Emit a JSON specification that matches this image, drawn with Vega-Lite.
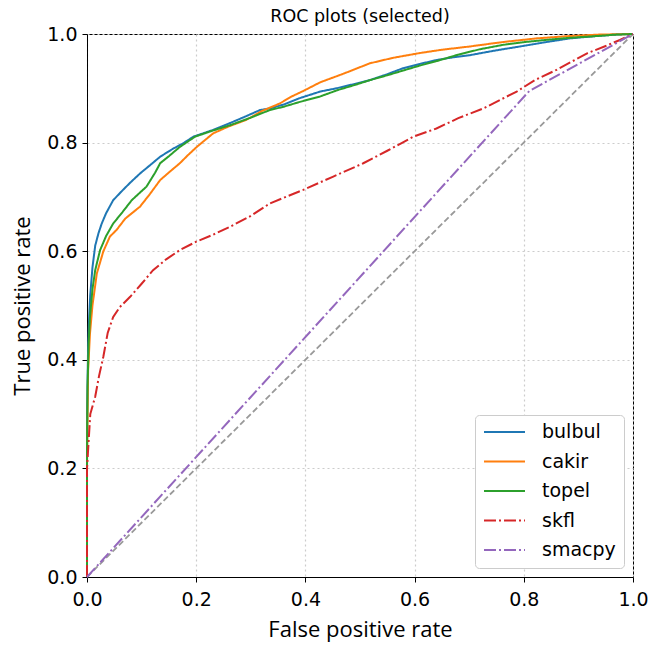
{
  "$schema": "https://vega.github.io/schema/vega-lite/v6.json",
  "width": 546,
  "height": 543,
  "autosize": {"type": "none"},
  "padding": {"left": 87, "top": 34, "right": 16, "bottom": 71},
  "background": "white",
  "title": {"text": "ROC plots (selected)", "font": "DejaVu Sans", "fontSize": 17.5, "fontWeight": "normal", "color": "black", "anchor": "middle", "baseline": "alphabetic", "offset": -14},
  "config": {
    "view": {"stroke": "black", "strokeWidth": 1},
    "axis": {
      "domainColor": "black", "tickColor": "black", "tickSize": 5, "labelColor": "black",
      "labelFont": "DejaVu Sans", "labelFontSize": 19, "titleFont": "Open Sans", "titleFontSize": 22,
      "titleFontWeight": "normal", "titleColor": "black",
      "gridColor": "#cccccc", "gridDash": [2, 3], "gridWidth": 1.2
    },
    "legend": {
      "orient": "bottom-right", "offset": 9, "labelFont": "DejaVu Sans", "labelFontSize": 19, "labelColor": "black",
      "symbolType": "stroke", "symbolSize": 1681, "symbolStrokeWidth": 2, "labelOffset": 16,
      "padding": 8, "rowPadding": 10.5, "clipHeight": 18, "strokeColor": "#cccccc", "cornerRadius": 4, "fillColor": "white"
    }
  },
  "datasets": {
    "roc": [
      {"model": "bulbul", "fpr": 0, "tpr": 0}, {"model": "bulbul", "fpr": 0, "tpr": 0.3}, {"model": "bulbul", "fpr": 0.002, "tpr": 0.42},
      {"model": "bulbul", "fpr": 0.004, "tpr": 0.48}, {"model": "bulbul", "fpr": 0.006, "tpr": 0.52}, {"model": "bulbul", "fpr": 0.01, "tpr": 0.57},
      {"model": "bulbul", "fpr": 0.015, "tpr": 0.61}, {"model": "bulbul", "fpr": 0.021, "tpr": 0.633}, {"model": "bulbul", "fpr": 0.027, "tpr": 0.651},
      {"model": "bulbul", "fpr": 0.035, "tpr": 0.67}, {"model": "bulbul", "fpr": 0.048, "tpr": 0.694}, {"model": "bulbul", "fpr": 0.066, "tpr": 0.713},
      {"model": "bulbul", "fpr": 0.08, "tpr": 0.727}, {"model": "bulbul", "fpr": 0.097, "tpr": 0.743}, {"model": "bulbul", "fpr": 0.115, "tpr": 0.758},
      {"model": "bulbul", "fpr": 0.134, "tpr": 0.774}, {"model": "bulbul", "fpr": 0.158, "tpr": 0.789}, {"model": "bulbul", "fpr": 0.175, "tpr": 0.798},
      {"model": "bulbul", "fpr": 0.195, "tpr": 0.811}, {"model": "bulbul", "fpr": 0.23, "tpr": 0.823}, {"model": "bulbul", "fpr": 0.262, "tpr": 0.836},
      {"model": "bulbul", "fpr": 0.29, "tpr": 0.848}, {"model": "bulbul", "fpr": 0.317, "tpr": 0.86}, {"model": "bulbul", "fpr": 0.335, "tpr": 0.863},
      {"model": "bulbul", "fpr": 0.36, "tpr": 0.87}, {"model": "bulbul", "fpr": 0.39, "tpr": 0.882}, {"model": "bulbul", "fpr": 0.427, "tpr": 0.894},
      {"model": "bulbul", "fpr": 0.457, "tpr": 0.9}, {"model": "bulbul", "fpr": 0.49, "tpr": 0.908}, {"model": "bulbul", "fpr": 0.518, "tpr": 0.915},
      {"model": "bulbul", "fpr": 0.55, "tpr": 0.926}, {"model": "bulbul", "fpr": 0.579, "tpr": 0.937}, {"model": "bulbul", "fpr": 0.61, "tpr": 0.945},
      {"model": "bulbul", "fpr": 0.64, "tpr": 0.952}, {"model": "bulbul", "fpr": 0.67, "tpr": 0.957}, {"model": "bulbul", "fpr": 0.701, "tpr": 0.961},
      {"model": "bulbul", "fpr": 0.75, "tpr": 0.97}, {"model": "bulbul", "fpr": 0.793, "tpr": 0.977}, {"model": "bulbul", "fpr": 0.84, "tpr": 0.985},
      {"model": "bulbul", "fpr": 0.885, "tpr": 0.992}, {"model": "bulbul", "fpr": 0.93, "tpr": 0.996}, {"model": "bulbul", "fpr": 0.97, "tpr": 0.999},
      {"model": "bulbul", "fpr": 1, "tpr": 1},

      {"model": "cakir", "fpr": 0, "tpr": 0}, {"model": "cakir", "fpr": 0, "tpr": 0.2}, {"model": "cakir", "fpr": 0.002, "tpr": 0.38},
      {"model": "cakir", "fpr": 0.0055, "tpr": 0.449}, {"model": "cakir", "fpr": 0.01, "tpr": 0.5}, {"model": "cakir", "fpr": 0.018, "tpr": 0.559},
      {"model": "cakir", "fpr": 0.03, "tpr": 0.6}, {"model": "cakir", "fpr": 0.042, "tpr": 0.627}, {"model": "cakir", "fpr": 0.054, "tpr": 0.639},
      {"model": "cakir", "fpr": 0.07, "tpr": 0.66}, {"model": "cakir", "fpr": 0.097, "tpr": 0.682}, {"model": "cakir", "fpr": 0.115, "tpr": 0.705},
      {"model": "cakir", "fpr": 0.134, "tpr": 0.731}, {"model": "cakir", "fpr": 0.15, "tpr": 0.745}, {"model": "cakir", "fpr": 0.17, "tpr": 0.762},
      {"model": "cakir", "fpr": 0.185, "tpr": 0.777}, {"model": "cakir", "fpr": 0.201, "tpr": 0.792}, {"model": "cakir", "fpr": 0.231, "tpr": 0.817},
      {"model": "cakir", "fpr": 0.26, "tpr": 0.83}, {"model": "cakir", "fpr": 0.292, "tpr": 0.842}, {"model": "cakir", "fpr": 0.32, "tpr": 0.858},
      {"model": "cakir", "fpr": 0.353, "tpr": 0.872}, {"model": "cakir", "fpr": 0.375, "tpr": 0.885}, {"model": "cakir", "fpr": 0.396, "tpr": 0.895},
      {"model": "cakir", "fpr": 0.427, "tpr": 0.911}, {"model": "cakir", "fpr": 0.47, "tpr": 0.927}, {"model": "cakir", "fpr": 0.518, "tpr": 0.946},
      {"model": "cakir", "fpr": 0.56, "tpr": 0.956}, {"model": "cakir", "fpr": 0.61, "tpr": 0.965}, {"model": "cakir", "fpr": 0.65, "tpr": 0.971},
      {"model": "cakir", "fpr": 0.701, "tpr": 0.977}, {"model": "cakir", "fpr": 0.76, "tpr": 0.985}, {"model": "cakir", "fpr": 0.824, "tpr": 0.992},
      {"model": "cakir", "fpr": 0.88, "tpr": 0.996}, {"model": "cakir", "fpr": 0.94, "tpr": 0.999}, {"model": "cakir", "fpr": 1, "tpr": 1},

      {"model": "topel", "fpr": 0, "tpr": 0}, {"model": "topel", "fpr": 0, "tpr": 0.22}, {"model": "topel", "fpr": 0.001, "tpr": 0.35},
      {"model": "topel", "fpr": 0.003, "tpr": 0.43}, {"model": "topel", "fpr": 0.0055, "tpr": 0.479}, {"model": "topel", "fpr": 0.01, "tpr": 0.53},
      {"model": "topel", "fpr": 0.015, "tpr": 0.565}, {"model": "topel", "fpr": 0.024, "tpr": 0.602}, {"model": "topel", "fpr": 0.035, "tpr": 0.628},
      {"model": "topel", "fpr": 0.048, "tpr": 0.651}, {"model": "topel", "fpr": 0.065, "tpr": 0.672}, {"model": "topel", "fpr": 0.082, "tpr": 0.694},
      {"model": "topel", "fpr": 0.109, "tpr": 0.719}, {"model": "topel", "fpr": 0.125, "tpr": 0.745}, {"model": "topel", "fpr": 0.134, "tpr": 0.762},
      {"model": "topel", "fpr": 0.15, "tpr": 0.775}, {"model": "topel", "fpr": 0.17, "tpr": 0.792}, {"model": "topel", "fpr": 0.198, "tpr": 0.811},
      {"model": "topel", "fpr": 0.23, "tpr": 0.822}, {"model": "topel", "fpr": 0.262, "tpr": 0.832}, {"model": "topel", "fpr": 0.3, "tpr": 0.846},
      {"model": "topel", "fpr": 0.335, "tpr": 0.86}, {"model": "topel", "fpr": 0.36, "tpr": 0.866}, {"model": "topel", "fpr": 0.39, "tpr": 0.875},
      {"model": "topel", "fpr": 0.427, "tpr": 0.885}, {"model": "topel", "fpr": 0.46, "tpr": 0.897}, {"model": "topel", "fpr": 0.49, "tpr": 0.906},
      {"model": "topel", "fpr": 0.518, "tpr": 0.915}, {"model": "topel", "fpr": 0.55, "tpr": 0.924}, {"model": "topel", "fpr": 0.58, "tpr": 0.933},
      {"model": "topel", "fpr": 0.61, "tpr": 0.942}, {"model": "topel", "fpr": 0.64, "tpr": 0.95}, {"model": "topel", "fpr": 0.68, "tpr": 0.962},
      {"model": "topel", "fpr": 0.72, "tpr": 0.972}, {"model": "topel", "fpr": 0.762, "tpr": 0.98}, {"model": "topel", "fpr": 0.8, "tpr": 0.985},
      {"model": "topel", "fpr": 0.85, "tpr": 0.99}, {"model": "topel", "fpr": 0.885, "tpr": 0.993}, {"model": "topel", "fpr": 0.93, "tpr": 0.996},
      {"model": "topel", "fpr": 0.97, "tpr": 0.999}, {"model": "topel", "fpr": 1, "tpr": 1},

      {"model": "skfl", "fpr": 0, "tpr": 0}, {"model": "skfl", "fpr": 0, "tpr": 0.2}, {"model": "skfl", "fpr": 0.003, "tpr": 0.25},
      {"model": "skfl", "fpr": 0.006, "tpr": 0.3}, {"model": "skfl", "fpr": 0.015, "tpr": 0.332}, {"model": "skfl", "fpr": 0.022, "tpr": 0.37},
      {"model": "skfl", "fpr": 0.03, "tpr": 0.406}, {"model": "skfl", "fpr": 0.038, "tpr": 0.45}, {"model": "skfl", "fpr": 0.048, "tpr": 0.479},
      {"model": "skfl", "fpr": 0.06, "tpr": 0.497}, {"model": "skfl", "fpr": 0.079, "tpr": 0.516}, {"model": "skfl", "fpr": 0.1, "tpr": 0.54},
      {"model": "skfl", "fpr": 0.121, "tpr": 0.565}, {"model": "skfl", "fpr": 0.145, "tpr": 0.585}, {"model": "skfl", "fpr": 0.17, "tpr": 0.602},
      {"model": "skfl", "fpr": 0.201, "tpr": 0.618}, {"model": "skfl", "fpr": 0.23, "tpr": 0.63}, {"model": "skfl", "fpr": 0.262, "tpr": 0.645},
      {"model": "skfl", "fpr": 0.3, "tpr": 0.665}, {"model": "skfl", "fpr": 0.335, "tpr": 0.688}, {"model": "skfl", "fpr": 0.396, "tpr": 0.713},
      {"model": "skfl", "fpr": 0.45, "tpr": 0.737}, {"model": "skfl", "fpr": 0.506, "tpr": 0.762}, {"model": "skfl", "fpr": 0.55, "tpr": 0.785},
      {"model": "skfl", "fpr": 0.598, "tpr": 0.811}, {"model": "skfl", "fpr": 0.64, "tpr": 0.826}, {"model": "skfl", "fpr": 0.68, "tpr": 0.845},
      {"model": "skfl", "fpr": 0.726, "tpr": 0.863}, {"model": "skfl", "fpr": 0.787, "tpr": 0.894}, {"model": "skfl", "fpr": 0.82, "tpr": 0.915},
      {"model": "skfl", "fpr": 0.86, "tpr": 0.934}, {"model": "skfl", "fpr": 0.915, "tpr": 0.964}, {"model": "skfl", "fpr": 0.95, "tpr": 0.978},
      {"model": "skfl", "fpr": 0.976, "tpr": 0.989}, {"model": "skfl", "fpr": 1, "tpr": 1},

      {"model": "smacpy", "fpr": 0, "tpr": 0}, {"model": "smacpy", "fpr": 0.81, "tpr": 0.895}, {"model": "smacpy", "fpr": 1, "tpr": 1}
    ],
    "chance": [{"fpr": 0, "tpr": 0}, {"fpr": 1, "tpr": 1}]
  },
  "encoding": {
    "x": {"field": "fpr", "type": "quantitative", "title": "False positive rate",
      "scale": {"domain": [0, 1], "nice": false},
      "axis": {"values": [0, 0.2, 0.4, 0.6, 0.8, 1], "format": ".1f", "labelFlush": false, "labelPadding": 8, "titlePadding": 10}},
    "y": {"field": "tpr", "type": "quantitative", "title": "True positive rate",
      "scale": {"domain": [0, 1], "nice": false},
      "axis": {"values": [0, 0.2, 0.4, 0.6, 0.8, 1], "format": ".1f", "labelFlush": false, "labelPadding": 5, "titlePadding": 12}}
  },
  "layer": [
    {
      "data": {"name": "chance"},
      "mark": {"type": "line", "color": "#999999", "strokeWidth": 1.8, "strokeDash": [6, 3]},
      "encoding": {}
    },
    {
      "data": {"name": "roc"},
      "mark": {"type": "line", "strokeWidth": 2},
      "encoding": {
        "order": {"value": null},
        "color": {"field": "model", "type": "nominal", "title": null,
          "scale": {"domain": ["bulbul", "cakir", "topel", "skfl", "smacpy"], "range": ["#1f77b4", "#ff7f0e", "#2ca02c", "#d62728", "#9467bd"]}},
        "strokeDash": {"field": "model", "type": "nominal", "title": null,
          "scale": {"domain": ["bulbul", "cakir", "topel", "skfl", "smacpy"], "range": [[1, 0], [1, 0], [1, 0], [12, 3, 2, 3], [12, 3, 2, 3]]}}
      }
    }
  ]
}
